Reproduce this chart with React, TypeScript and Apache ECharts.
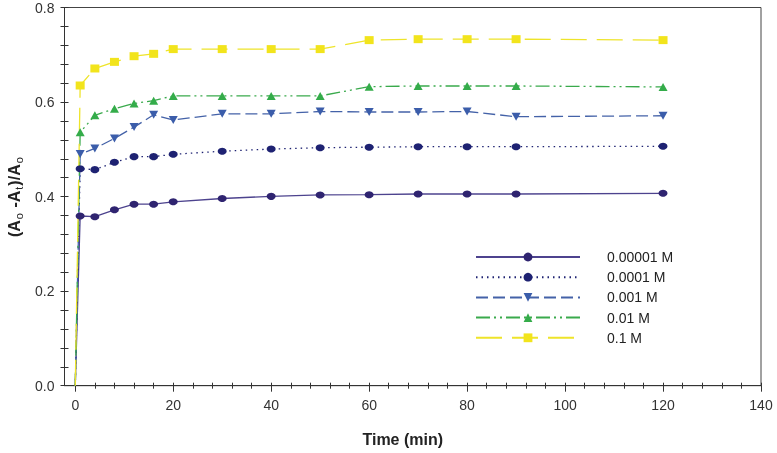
import React, { useEffect, useRef } from "react";
import * as echarts from "echarts";

const timeMin = [0, 1, 4, 8, 12, 16, 20, 30, 40, 50, 60, 70, 80, 90, 120];
const s1e5 = [0, 0.359, 0.3575, 0.372, 0.384, 0.384, 0.389, 0.396, 0.4005, 0.4035, 0.404, 0.4055, 0.4055, 0.4055, 0.407];
const s1e4 = [0, 0.459, 0.457, 0.4725, 0.4845, 0.4845, 0.4895, 0.496, 0.5005, 0.5035, 0.5045, 0.5055, 0.5055, 0.5055, 0.5065];
const s1e3 = [0, 0.49, 0.502, 0.523, 0.547, 0.573, 0.562, 0.575, 0.575, 0.58, 0.579, 0.579, 0.58, 0.569, 0.571];
const s1e2 = [0, 0.536, 0.572, 0.586, 0.597, 0.603, 0.613, 0.613, 0.613, 0.613, 0.6325, 0.634, 0.634, 0.634, 0.632];
const s1e1 = [0, 0.635, 0.671, 0.685, 0.697, 0.702, 0.712, 0.712, 0.712, 0.712, 0.731, 0.733, 0.733, 0.733, 0.731];
const seriesNames = ["0.00001 M", "0.0001 M", "0.001 M", "0.01 M", "0.1 M"];
const xLabelValues = [0, 20, 40, 60, 80, 100, 120, 140];
const yLabelValues = [0, 0.2, 0.4, 0.6, 0.8];

const FONT = "Liberation Sans, Arial, sans-serif";

function toPairs(ys: number[]) {
  return ys.map((y, i) =>
    i === 0 ? { value: [timeMin[i], y], symbol: "none" } : [timeMin[i], y]
  );
}

export default function App() {
  const ref = useRef<HTMLDivElement>(null);
  useEffect(() => {
    if (!ref.current) return;
    const chart = echarts.init(ref.current, undefined, { renderer: "svg" });
    const xMinor: number[] = [];
    for (let v = 0; v <= 140; v += 4) xMinor.push(v);
    const yMinor: number[] = [];
    for (let k = 0; k <= 20; k++) yMinor.push(+(k * 0.04).toFixed(2));

    const xBase = {
      type: "value",
      min: -2.2,
      max: 140,
      splitLine: { show: false },
      position: "bottom",
    };
    const yBase = {
      type: "value",
      min: 0,
      max: 0.8,
      splitLine: { show: false },
      position: "left",
    };

    const lineCommon = { showSymbol: true, animation: false, z: 3 };

    chart.setOption({
      animation: false,
      grid: {
        left: 64.5,
        right: 16,
        top: 7.5,
        bottom: 67.3,
        containLabel: false,
        outerBoundsMode: "none",
        show: true,
        borderColor: "#444",
        borderWidth: 1,
        backgroundColor: "transparent",
      },
      legend: {
        orient: "vertical",
        left: 475,
        top: 250,
        padding: 0,
        itemWidth: 104,
        itemHeight: 11,
        itemGap: 6.2,
        data: seriesNames,
        textStyle: {
          fontFamily: FONT,
          fontSize: 14,
          color: "#222",
          padding: [0, 0, 0, 22],
        },
      },
      xAxis: [
        {
          ...xBase,
          name: "Time (min)",
          nameLocation: "middle",
          nameGap: 46,
          nameTextStyle: {
            fontFamily: FONT,
            fontSize: 16,
            fontWeight: "bold",
            color: "#222",
            padding: [0, 20, 0, 0],
          },
          axisLine: { show: true, onZero: false, lineStyle: { color: "#333", width: 1 } },
          axisTick: { show: true, inside: false, length: 3, customValues: xMinor, lineStyle: { color: "#333" } },
          axisLabel: {
            customValues: xLabelValues,
            margin: 12,
            fontFamily: FONT,
            fontSize: 14,
            color: "#333",
          },
        },
        {
          ...xBase,
          axisLine: { show: false, onZero: false },
          axisTick: { show: true, inside: true, length: 3, customValues: xMinor, lineStyle: { color: "#333" } },
          axisLabel: { show: false },
        },
        {
          ...xBase,
          axisLine: { show: false, onZero: false },
          axisTick: { show: true, inside: false, length: 6, customValues: xLabelValues, lineStyle: { color: "#333" } },
          axisLabel: { show: false },
        },
      ],
      yAxis: [
        {
          ...yBase,
          name: "(A{s|o} -A{s|t})/A{s|o}",
          nameLocation: "middle",
          nameRotate: 90,
          nameGap: 37,
          nameTextStyle: {
            fontFamily: FONT,
            fontSize: 16,
            fontWeight: "bold",
            color: "#222",
            rich: {
              s: {
                fontFamily: FONT,
                fontSize: 11,
                fontWeight: "normal",
                color: "#222",
                padding: [9, 1, 0, 1],
              },
            },
          },
          axisLine: { show: true, onZero: false, lineStyle: { color: "#333", width: 1 } },
          axisTick: { show: true, inside: false, length: 4, customValues: yMinor, lineStyle: { color: "#333" } },
          axisLabel: {
            customValues: yLabelValues,
            margin: 10,
            fontFamily: FONT,
            fontSize: 14,
            color: "#333",
            formatter: (v: number) => v.toFixed(1),
          },
        },
        {
          ...yBase,
          axisLine: { show: false, onZero: false },
          axisTick: { show: true, inside: true, length: 4, customValues: yMinor, lineStyle: { color: "#333" } },
          axisLabel: { show: false },
        },
      ],
      series: [
        {
          ...lineCommon,
          name: seriesNames[0],
          type: "line",
          data: toPairs(s1e5),
          symbol: "circle",
          symbolSize: [9, 7],
          itemStyle: { color: "#2f2470" },
          lineStyle: { color: "#4d438e", width: 1.3, type: "solid" },
        },
        {
          ...lineCommon,
          name: seriesNames[1],
          type: "line",
          data: toPairs(s1e4),
          symbol: "circle",
          symbolSize: [9, 7],
          itemStyle: { color: "#1e2272" },
          lineStyle: { color: "#1e2272", width: 1.3, type: [1.5, 4] },
        },
        {
          ...lineCommon,
          name: seriesNames[2],
          type: "line",
          data: toPairs(s1e3),
          symbol: "triangle",
          symbolRotate: 180,
          symbolSize: [9, 8],
          itemStyle: { color: "#3b5daa" },
          lineStyle: { color: "#4462a8", width: 1.3, type: [12, 5] },
        },
        {
          ...lineCommon,
          name: seriesNames[3],
          type: "line",
          data: toPairs(s1e2),
          symbol: "triangle",
          symbolSize: [9, 8],
          itemStyle: { color: "#34ac4a" },
          lineStyle: { color: "#3aaa4c", width: 1.3, type: [14, 4, 2, 4, 2, 4] },
        },
        {
          ...lineCommon,
          name: seriesNames[4],
          type: "line",
          data: toPairs(s1e1),
          symbol: "rect",
          symbolSize: [9, 8],
          itemStyle: { color: "#f2e41c" },
          lineStyle: { color: "#eee42a", width: 1.3, type: [26, 10] },
        },
      ],
    });
    return () => chart.dispose();
  }, []);
  return (
    <div
      ref={ref}
      style={{ position: "fixed", left: 0, top: 0, width: 777, height: 453 }}
    />
  );
}
